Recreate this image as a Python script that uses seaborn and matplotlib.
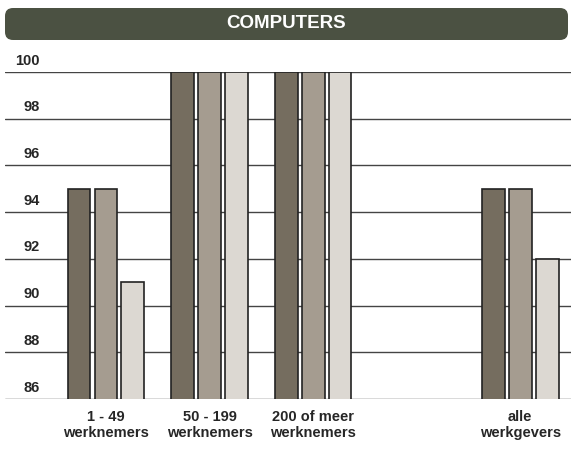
import numpy as np
import pandas as pd
import matplotlib
matplotlib.use("Agg")
import matplotlib.pyplot as plt
import seaborn as sns
from matplotlib.patches import FancyBboxPatch
from matplotlib.transforms import ScaledTranslation

# data
groups = ["1 - 49\nwerknemers", "50 - 199\nwerknemers", "200 of meer\nwerknemers", "alle\nwerkgevers"]
order = ["1 - 49\nwerknemers", "50 - 199\nwerknemers", "200 of meer\nwerknemers", "", "alle\nwerkgevers"]
series = ["reeks 1", "reeks 2", "reeks 3"]
vals_1 = [95, 100, 100, 95]
vals_2 = [95, 100, 100, 95]
vals_3 = [91, 100, 100, 92]
yticks = [86, 88, 90, 92, 94, 96, 98, 100]
title = "COMPUTERS"

palette = {"reeks 1": "#756d5f", "reeks 2": "#a59c90", "reeks 3": "#dcd8d2"}

df = pd.DataFrame({
    "groep": groups * 3,
    "reeks": [s for s in series for _ in groups],
    "waarde": vals_1 + vals_2 + vals_3,
})

sns.set_style("white")
plt.rcParams["font.family"] = ["Liberation Sans", "DejaVu Sans"]
plt.rcParams["font.weight"] = "bold"

fig = plt.figure(figsize=(5.71, 4.5), dpi=100)
ax = fig.add_axes([5 / 571, 1 - 399 / 450, 566 / 571, (399 - 72) / 450])

sns.barplot(
    data=df, x="groep", y="waarde", hue="reeks",
    order=order, hue_order=series, palette=palette,
    width=0.78, gap=0.15, edgecolor="#222222", linewidth=1.2,
    saturation=1, errorbar=None, legend=False, ax=ax, zorder=3,
)

ax.set_ylim(86, 100)
ax.set_xlim(-0.975, 4.49)
ax.set_yticks(yticks)
ax.set_axisbelow(True)
ax.yaxis.grid(True, color="#444444", linewidth=1)
for s in ax.spines.values():
    s.set_visible(False)
ax.set_xlabel("")
ax.set_ylabel("")

ax.tick_params(axis="y", length=0, pad=-25, labelsize=10.5)
for lab in ax.get_yticklabels():
    lab.set_horizontalalignment("right")
    lab.set_fontweight("bold")
    lab.set_transform(lab.get_transform() + ScaledTranslation(0, 0.13, fig.dpi_scale_trans))
ax.tick_params(axis="x", length=0, pad=8, labelsize=10.5)
for lab in ax.get_xticklabels():
    lab.set_fontweight("bold")
    lab.set_linespacing(1.2)

# title bar
tax = fig.add_axes([0, 1 - 45 / 450, 1, 45 / 450])
tax.set_xlim(0, 571)
tax.set_ylim(45, 0)
tax.axis("off")
tax.add_patch(FancyBboxPatch((12, 15), 549, 18, boxstyle="round,pad=7,rounding_size=8",
                             facecolor="#4b5142", edgecolor="none"))
tax.text(286, 24, title, color="white", fontsize=13.5, fontweight="bold",
         ha="center", va="center")

fig.savefig("out.png", dpi=100, facecolor="white")
